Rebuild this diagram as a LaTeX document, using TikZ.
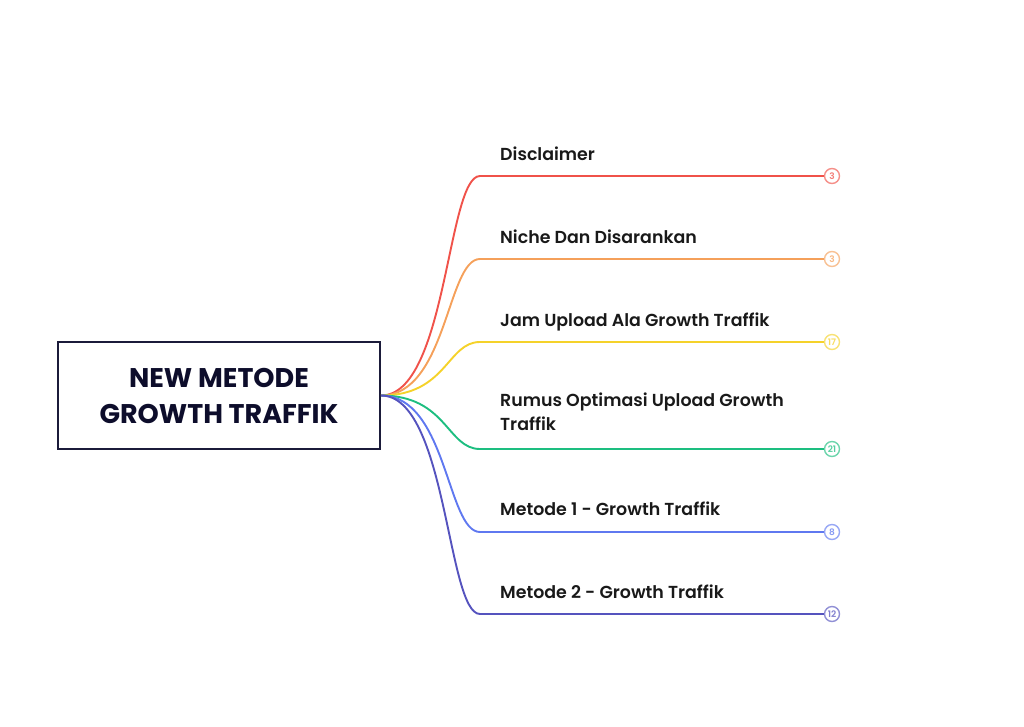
\documentclass[tikz,border=0pt]{standalone}
\usepackage{fontspec}
\setmainfont{Poppins}
\newfontfamily\medfont{Poppins SemiBold}
\usepackage{tikz}

\definecolor{rootline}{HTML}{1B1B3A}
\definecolor{roottext}{HTML}{0D0D2B}
\definecolor{bred}{HTML}{F0524A}
\definecolor{borange}{HTML}{F5A05A}
\definecolor{byellow}{HTML}{F5D22A}
\definecolor{bgreen}{HTML}{1DBE80}
\definecolor{bblue}{HTML}{5F78F0}
\definecolor{bpurple}{HTML}{5553BE}

\begin{document}
\begin{tikzpicture}[
    x=1pt, y=-1pt,
    root/.style={draw=rootline, line width=2pt, fill=white, minimum width=322pt,
        minimum height=107pt, align=center, text=roottext,
        font=\fontsize{27}{36}\selectfont\bfseries},
    topic/.style={anchor=base west, align=left, inner sep=0pt, text=black!90,
        font=\medfont\fontsize{17.4}{24}\selectfont},
    count/.style={circle, draw=#1!65, text=#1!75, fill=white, line width=1.4pt,
        minimum size=15pt, inner sep=0pt, font=\medfont\fontsize{9}{9}\selectfont},
    branch/.style={line width=1.9pt}
    ]
\useasboundingbox (0,0) rectangle (1024,726);

% Central topic
\node[root] (Root) at (219,395.5) {NEW METODE\\GROWTH TRAFFIK};

% Topics
\node[topic] (Disclaimer) at (500,160) {Disclaimer};
\node[topic] (Niche) at (500,243) {Niche Dan Disarankan};
\node[topic] (Jam) at (500,326) {Jam Upload Ala Growth Traffik};
\node[topic] (Rumus) at (500,430) {Rumus Optimasi Upload Growth\\Traffik};
\node[topic] (Metode1) at (500,515) {Metode 1 - Growth Traffik};
\node[topic] (Metode2) at (500,598) {Metode 2 - Growth Traffik};

% Counters
\node[count=bred] (n1) at (832,176) {3};
\node[count=borange] (n2) at (832,259) {3};
\node[count=byellow] (n3) at (832,342) {17};
\node[count=bgreen] (n4) at (832,449) {21};
\node[count=bblue] (n5) at (832,532) {8};
\node[count=bpurple] (n6) at (832,614) {12};

% Branch bends
\coordinate (k1) at (480,176);
\coordinate (k2) at (480,259);
\coordinate (k3) at (480,342);
\coordinate (k4) at (480,449);
\coordinate (k5) at (480,532);
\coordinate (k6) at (480,614);

% Branches
\draw[branch, bred] (Root.east) .. controls +(66,0) and +(-33,0) .. (k1) -- (n1);
\draw[branch, borange] (Root.east) .. controls +(66,0) and +(-33,0) .. (k2) -- (n2);
\draw[branch, byellow] (Root.east) .. controls +(66,0) and +(-33,0) .. (k3) -- (n3);
\draw[branch, bgreen] (Root.east) .. controls +(66,0) and +(-33,0) .. (k4) -- (n4);
\draw[branch, bblue] (Root.east) .. controls +(66,0) and +(-33,0) .. (k5) -- (n5);
\draw[branch, bpurple] (Root.east) .. controls +(66,0) and +(-33,0) .. (k6) -- (n6);

\end{tikzpicture}
\end{document}
